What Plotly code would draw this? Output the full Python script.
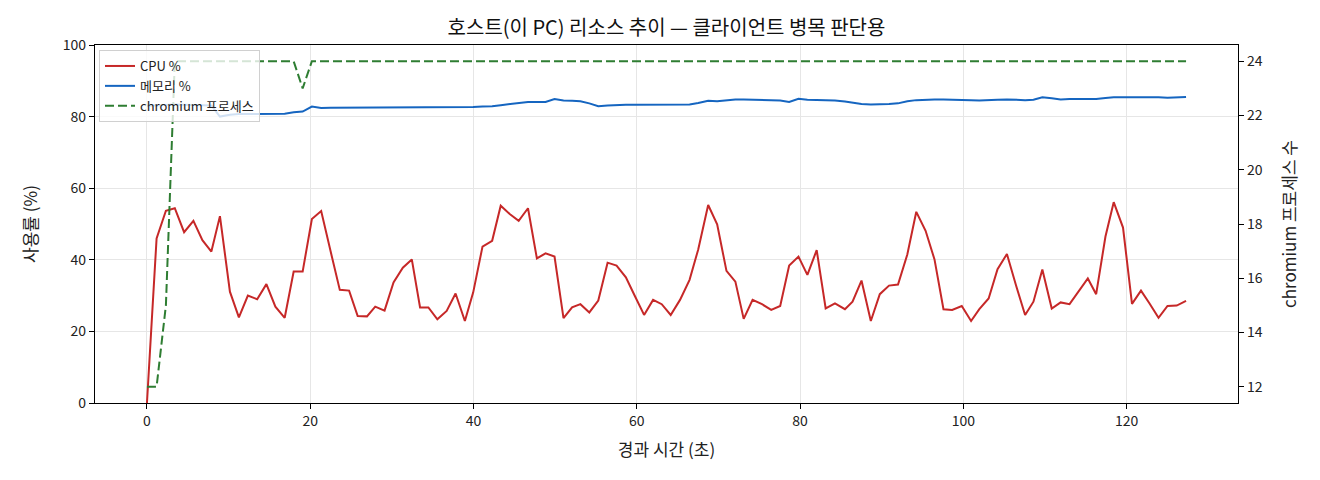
import plotly.graph_objects as go

# tiempo transcurrido (s) de cada muestra
tiempo = [0.0, 1.18, 2.32, 3.41, 4.55, 5.69, 6.79, 7.89, 8.94, 10.16,
          11.26, 12.36, 13.5, 14.63, 15.73, 16.87, 17.97, 19.07, 20.2, 21.34,
          22.48, 23.62, 24.76, 25.81, 26.95, 27.96, 29.1, 30.2, 31.34, 32.44,
          33.45, 34.47, 35.57, 36.71, 37.8, 38.94, 39.96, 41.1, 42.28, 43.33,
          44.43, 45.53, 46.67, 47.76, 48.82, 49.92, 51.02, 52.07, 53.09, 54.18,
          55.28, 56.42, 57.52, 58.66, 59.76, 60.89, 61.99, 63.05, 64.15, 65.29,
          66.46, 67.52, 68.74, 69.84, 70.98, 72.07, 73.09, 74.18, 75.33, 76.46,
          77.56, 78.66, 79.8, 80.89, 82.03, 83.13, 84.27, 85.49, 86.42, 87.52,
          88.66, 89.76, 90.89, 91.99, 93.13, 94.23, 95.37, 96.46, 97.56, 98.62,
          99.8, 100.94, 101.95, 103.09, 104.18, 105.33, 106.45, 107.56, 108.58, 109.67,
          110.82, 111.91, 113.0, 114.15, 115.24, 116.26, 117.4, 118.41, 119.55, 120.65,
          121.75, 122.8, 123.9, 125.0, 126.13, 127.27]

cpu = [0.0, 46.0, 53.7, 54.4, 47.7, 50.9, 45.5, 42.3, 52.2, 31.1,
       23.9, 30.0, 29.0, 33.2, 26.9, 23.8, 36.7, 36.7, 51.4, 53.6,
       42.5, 31.6, 31.4, 24.3, 24.2, 26.9, 25.8, 33.7, 37.8, 40.1,
       26.7, 26.7, 23.4, 25.7, 30.6, 22.9, 30.9, 43.7, 45.3, 55.1,
       52.8, 50.9, 54.4, 40.4, 41.8, 40.9, 23.7, 26.7, 27.6, 25.3,
       28.6, 39.2, 38.4, 35.1, 29.9, 24.6, 28.8, 27.6, 24.6, 28.8,
       34.4, 42.9, 55.3, 49.9, 36.9, 33.9, 23.5, 28.8, 27.6, 26.0,
       27.1, 38.4, 40.9, 35.8, 42.7, 26.4, 27.8, 26.2, 28.3, 34.2,
       22.9, 30.4, 32.8, 33.1, 41.5, 53.4, 48.1, 40.1, 26.2, 26.0,
       27.1, 22.9, 26.2, 29.2, 37.4, 41.6, 32.8, 24.6, 28.3, 37.3,
       26.4, 28.1, 27.6, 31.4, 34.8, 30.4, 46.5, 56.1, 49.0, 27.7,
       31.4, 27.8, 23.8, 27.1, 27.2, 28.5]

memoria = [83.0, 83.2, 83.3, 83.4, 83.3, 83.2, 83.3, 83.1, 80.0, 80.5,
           80.7, 80.7, 80.7, 80.7, 80.7, 80.8, 81.2, 81.4, 82.8, 82.4,
           82.5, 82.5, 82.6, 82.6, 82.5, 82.5, 82.5, 82.6, 82.6, 82.6,
           82.6, 82.5, 82.5, 82.5, 82.6, 82.7, 82.7, 82.8, 82.9, 83.2,
           83.5, 83.8, 84.1, 84.1, 84.1, 84.9, 84.5, 84.4, 84.3, 83.7,
           82.9, 83.1, 83.3, 83.3, 83.3, 83.3, 83.2, 83.2, 83.2, 83.2,
           83.4, 83.8, 84.4, 84.3, 84.6, 84.8, 84.8, 84.7, 84.7, 84.6,
           84.5, 84.1, 85.0, 84.7, 84.7, 84.7, 84.5, 84.2, 83.9, 83.5,
           83.4, 83.4, 83.5, 83.7, 84.3, 84.6, 84.8, 84.8, 84.8, 84.8,
           84.8, 84.6, 84.5, 84.5, 84.7, 84.8, 84.6, 84.6, 84.7, 85.4,
           85.1, 84.8, 84.9, 84.9, 84.9, 84.9, 85.2, 85.4, 85.4, 85.4,
           85.6, 85.6, 85.4, 85.3, 85.3, 85.5]

chromium = [12, 12, 15] + [24] * 14 + [23] + [24] * 98

x_ticks = [0, 20, 40, 60, 80, 100, 120]
y_ticks = [0, 20, 40, 60, 80, 100]
y2_ticks = [12, 14, 16, 18, 20, 22, 24]

fuente = "Noto Sans CJK KR, Noto Sans, sans-serif"

fig = go.Figure()

fig.add_trace(go.Scatter(x=tiempo, y=cpu, mode='lines', name='CPU %',
                         line=dict(color='#c62828', width=2)))
fig.add_trace(go.Scatter(x=tiempo, y=memoria, mode='lines', name='메모리 %',
                         line=dict(color='#1565c0', width=2)))
fig.add_trace(go.Scatter(x=tiempo, y=chromium, mode='lines', name='chromium 프로세스',
                         yaxis='y2', line=dict(color='#2e7d32', width=2, dash='9px,4px')))

# margen de 5% como matplotlib
x_pad = (max(tiempo) - min(tiempo)) * 0.05
y2_pad = (max(chromium) - min(chromium)) * 0.05

# el body del html tiene 8px de margen, por eso 1312x472
fig.update_layout(
    width=1312, height=472,
    margin=dict(l=87, r=82, t=37, b=77),
    plot_bgcolor='white', paper_bgcolor='white',
    font=dict(family=fuente, size=14, color='#222'),
    title=dict(text='호스트(이 PC) 리소스 추이 — 클라이언트 병목 판단용',
               x=0.5, xref='paper', xanchor='center',
               y=1 - 20 / 472, yanchor='middle',
               font=dict(size=20, color='#111')),
    xaxis=dict(range=[min(tiempo) - x_pad, max(tiempo) + x_pad],
               tickvals=x_ticks,
               title=dict(text='경과 시간 (초)', standoff=15, font=dict(size=17)),
               showgrid=True, gridcolor='#e6e6e6', zeroline=False,
               showline=True, linecolor='black', linewidth=1.2, mirror=True,
               ticks='outside', ticklen=5, tickcolor='black', automargin=False),
    yaxis=dict(range=[0, 100], tickvals=y_ticks,
               title=dict(text='사용률 (%)', standoff=20, font=dict(size=17)),
               showgrid=True, gridcolor='#e6e6e6', zeroline=False,
               showline=True, linecolor='black', linewidth=1.2,
               ticks='outside', ticklen=5, tickcolor='black', automargin=False),
    yaxis2=dict(range=[min(chromium) - y2_pad, max(chromium) + y2_pad],
                tickvals=y2_ticks, overlaying='y', side='right',
                title=dict(text='chromium 프로세스 수', standoff=22, font=dict(size=17)),
                showgrid=False, zeroline=False,
                showline=True, linecolor='black', linewidth=1.2,
                ticks='outside', ticklen=5, tickcolor='black', automargin=False),
    legend=dict(x=0.0035, y=0.986, xanchor='left', yanchor='top',
                bgcolor='rgba(255,255,255,0.8)', bordercolor='#d0d0d0', borderwidth=1,
                font=dict(size=13), tracegroupgap=0, itemwidth=30),
    showlegend=True,
)

fig.write_html("out.html")
